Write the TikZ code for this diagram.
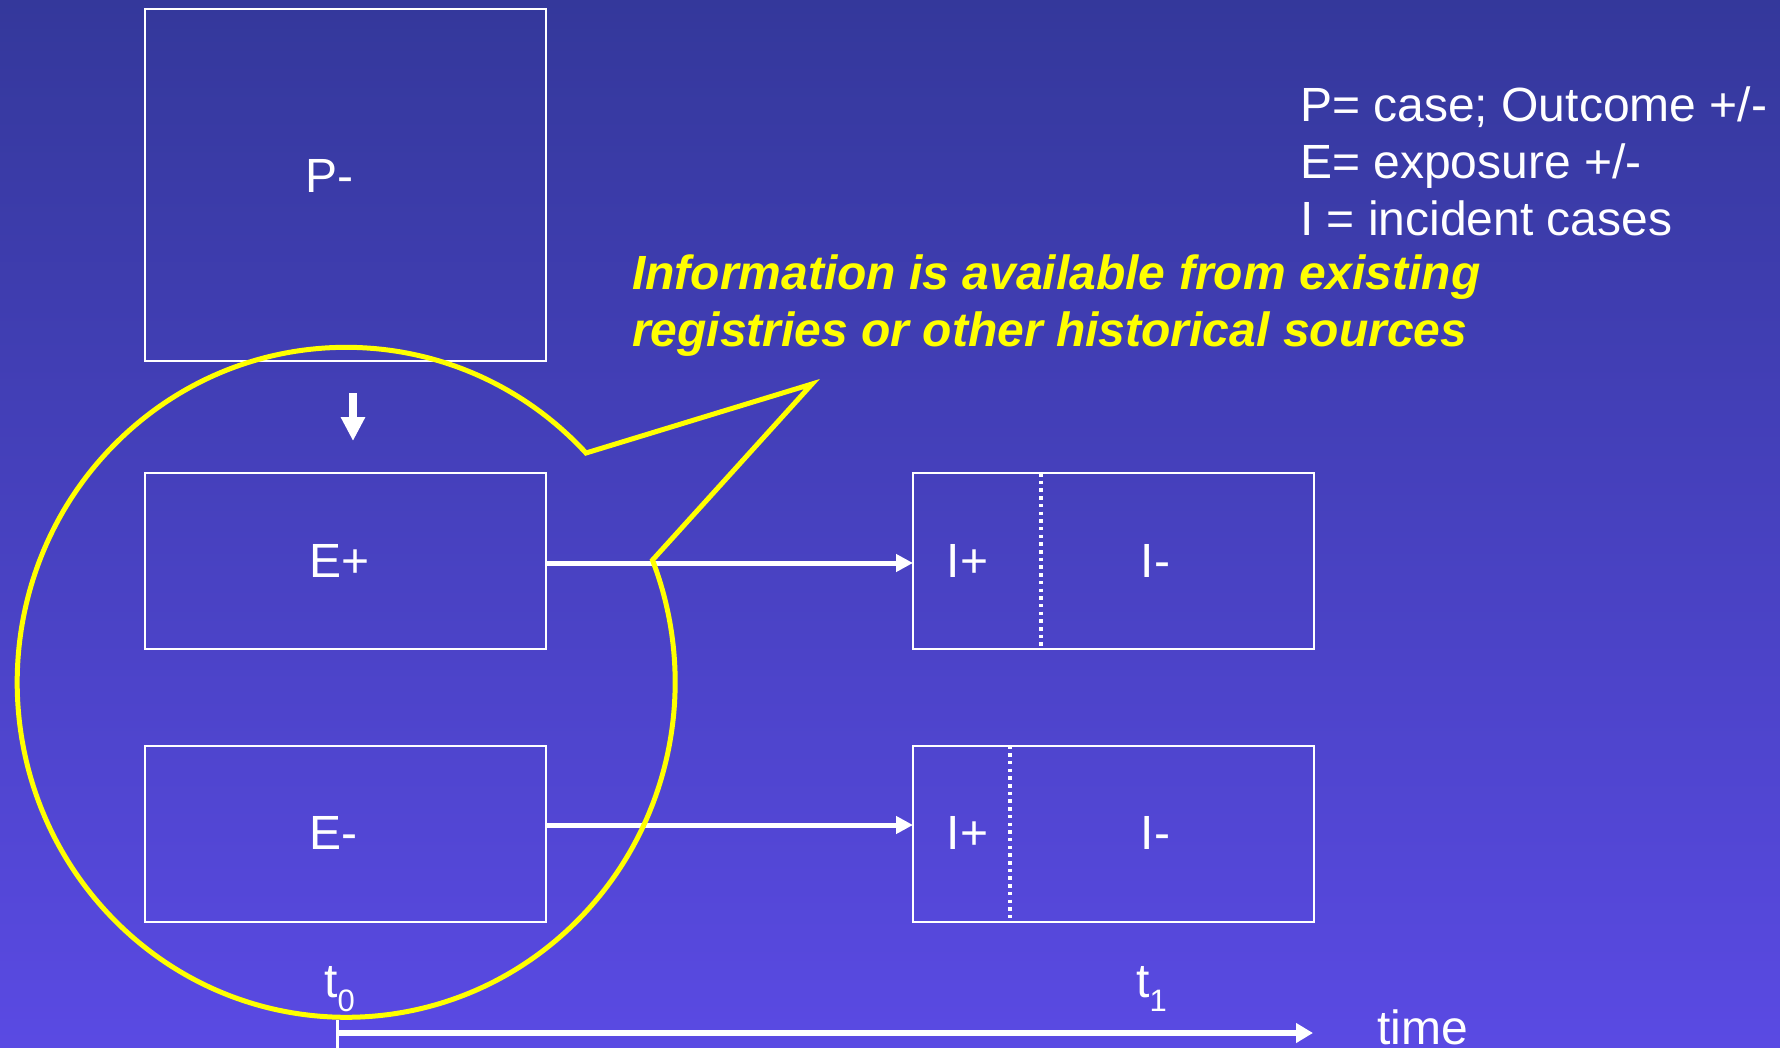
\documentclass[tikz,border=0pt]{standalone}
\usepackage{fontspec}
\setmainfont{Liberation Sans}
\usetikzlibrary{arrows.meta}
\definecolor{bgtop}{RGB}{52,56,155}
\definecolor{bgbot}{RGB}{90,74,227}
\definecolor{calloutyellow}{RGB}{255,255,0}
\begin{document}
\begin{tikzpicture}[x=1pt,y=-1pt,
  boxnode/.style={draw=white, line width=2pt, inner sep=0pt, outer sep=0pt, minimum width=401pt},
  lbl/.style={text=white, font=\fontsize{48}{57}\selectfont, inner sep=0pt, anchor=base west},
  ylbl/.style={text=calloutyellow, font=\fontsize{48}{57}\selectfont\bfseries\itshape, inner sep=0pt, anchor=base west},
  arr/.style={draw=white, line width=5pt, -{Triangle[length=17pt,width=17pt]}},
  dotline/.style={draw=white, line width=3.5pt, dash pattern=on 3.5pt off 4.2pt},
  calloutline/.style={draw=calloutyellow, line width=5pt, line join=miter}
]
% background
\shade[top color=bgtop, bottom color=bgbot] (0,0) rectangle (1780,1048);
\useasboundingbox (0,0) rectangle (1780,1048);

% boxes
\node[boxnode, minimum height=352pt] (pbox) at (345.5,185) {};
\node[boxnode, minimum height=176pt] (epbox) at (345.5,561) {};
\node[boxnode, minimum height=176pt] (embox) at (345.5,833.5) {};
\node[boxnode, minimum height=176pt] (itop) at (1113.5,561) {};
\node[boxnode, minimum height=176pt] (ibot) at (1113.5,833.5) {};

% dotted separators
\coordinate (dtx) at (1041,0);
\coordinate (dbx) at (1010,0);
\draw[dotline] (itop.north -| dtx) -- (itop.south -| dtx);
\draw[dotline] (ibot.north -| dbx) -- (ibot.south -| dbx);

% box labels
\node[lbl] (plabel) at (305,193) {P-};
\node[lbl] (eplabel) at (309,577) {E+};
\node[lbl] (emlabel) at (309,849) {E-};
\node[lbl] (itp) at (946.5,577) {I+};
\node[lbl] (itm) at (1140.5,577) {I-};
\node[lbl] (ibp) at (946.5,849) {I+};
\node[lbl] (ibm) at (1140.5,849) {I-};

% arrows
\coordinate (atop) at (0,563);
\coordinate (abot) at (0,825);
\draw[arr] (epbox.east |- atop) -- (itop.west |- atop);
\draw[arr] (embox.east |- abot) -- (ibot.west |- abot);

% small down arrow between P- and E+
\coordinate (da1) at (353,393);
\coordinate (da2) at (353,441);
\draw[draw=white, line width=8pt, -{Triangle[length=24pt,width=23pt]}] (da1) -- (da2);

% time axis
\coordinate (tstart) at (337,1033);
\coordinate (tend) at (1313,1033);
\coordinate (tick1) at (337,1020);
\coordinate (tick2) at (337,1048);
\draw[white, line width=3pt] (tick1) -- (tick2);
\draw[draw=white, line width=6pt, -{Triangle[length=17pt,width=19pt]}] (tstart) -- (tend);
\node[lbl] (t0) at (324,997) {t\raisebox{-14pt}{\fontsize{31}{31}\selectfont 0}};
\node[lbl] (t1) at (1136,997) {t\raisebox{-14pt}{\fontsize{31}{31}\selectfont 1}};
\node[lbl] (timelbl) at (1377,1044) {time};

% legend
\node[lbl] (leg1) at (1300,122) {P= case; Outcome +/-};
\node[lbl] (leg2) at (1300,179) {E= exposure +/-};
\node[lbl] (leg3) at (1300,236) {I = incident cases};

% callout
\coordinate (cA) at (586,453);
\coordinate (ctip) at (812,384);
\draw[calloutline] (cA) arc[start angle=43.2, end angle=381.4, x radius=329pt, y radius=335pt] -- (ctip) -- cycle;

\node[ylbl] (y1) at (632,290) {Information is available from existing};
\node[ylbl] (y2) at (632,347) {registries or other historical sources};
\end{tikzpicture}
\end{document}
